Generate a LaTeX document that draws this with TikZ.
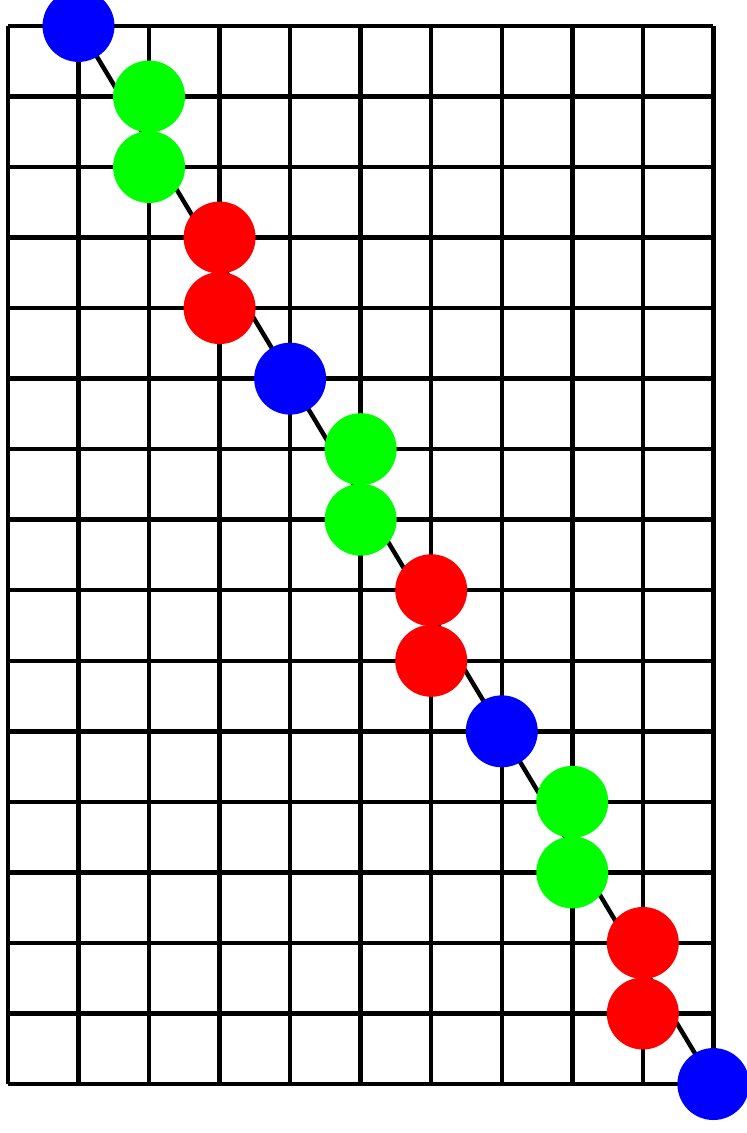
\documentclass[tikz,border=0pt]{standalone}
\usetikzlibrary{backgrounds}
\begin{document}
\begin{tikzpicture}[x=1cm,y=1cm,
  gridline/.style={line width=1.8pt},
  ball/.style={circle, minimum size=1.02cm, inner sep=0pt, draw=none},
  bball/.style={ball, fill=blue},
  gball/.style={ball, fill=green},
  rball/.style={ball, fill=red},
  link/.style={line width=1.8pt}]
\useasboundingbox (-0.113,-0.694) rectangle (10.467,15.368);
\begin{scope}[on background layer]
  \draw[gridline] (0,0) grid (10,15);
\end{scope}
\node[bball] (b1) at (1,15) {};
\node[gball] (g1) at (2,14) {};
\node[gball] (g2) at (2,13) {};
\node[rball] (r1) at (3,12) {};
\node[rball] (r2) at (3,11) {};
\node[bball] (b2) at (4,10) {};
\node[gball] (g3) at (5,9) {};
\node[gball] (g4) at (5,8) {};
\node[rball] (r3) at (6,7) {};
\node[rball] (r4) at (6,6) {};
\node[bball] (b3) at (7,5) {};
\node[gball] (g5) at (8,4) {};
\node[gball] (g6) at (8,3) {};
\node[rball] (r5) at (9,2) {};
\node[rball] (r6) at (9,1) {};
\node[bball] (b4) at (10,0) {};
\begin{scope}[on background layer]
  \draw[link] (b1.center) -- (b4.center);
\end{scope}
\end{tikzpicture}
\end{document}
